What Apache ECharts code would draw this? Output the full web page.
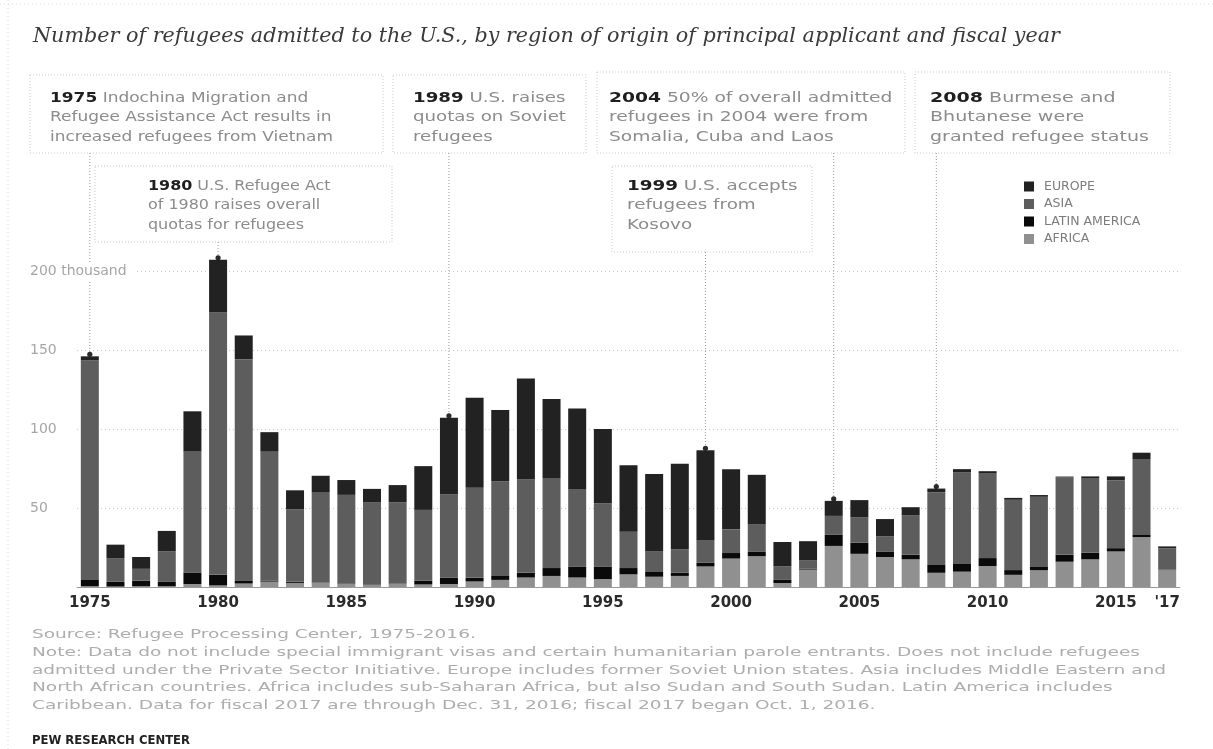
<!DOCTYPE html>
<html><head><meta charset="utf-8">
<script src="https://cdn.jsdelivr.net/npm/echarts@6/dist/echarts.min.js"></script>
<style>html,body{margin:0;padding:0;background:#fff}#c{width:1213px;height:749px}</style>
</head><body><div id="c"></div>
<script>
// ---- data (thousands of refugees) ----
const years = ['1975','1976','1977','1978','1979','1980','1981','1982','1983','1984','1985','1986','1987','1988','1989','1990','1991','1992','1993','1994','1995','1996','1997','1998','1999','2000','2001','2002','2003','2004','2005','2006','2007','2008','2009','2010','2011','2012','2013','2014','2015','2016','2017'];
const europe = [2.5,8.5,7.5,13,25.5,33.4,15,12,12,10.3,9.4,8.7,11,27.7,48.5,57,45,64,50,51,47,42,49,54,57,38,31.5,15.5,12,9.5,11,11,5,2.3,2,1.5,1.2,1.1,0.6,1,2.4,4,1.2];
const asia = [139,15,7.5,19,76.5,166,140,82,45.9,57.2,56.2,51.9,51.2,44.7,52.6,57,60,59,57,49,40,23,13,15,14,15,17,8.5,5.5,12,16,9.5,25,46,58,53.5,44.5,44.4,48.9,47.2,43,48.1,13.5];
const latinAmerica = [4,3,3.5,3,7.3,6.7,2,0.6,0.7,0.2,0.2,0.2,0.3,2.5,4.1,2.3,2.5,3,5,7,8,4,3,2,2.5,3.5,3,2,0.5,7,7,3.5,3,5,4.9,5,3,2.1,4.4,4.3,2.1,1.3,0.3];
const africa = [0.5,0.3,0.5,0.5,1.9,1,2.2,3.4,2.6,2.7,1.9,1.3,2,1.6,1.9,3.5,4.5,6,7,6,5,8,6.5,7,13,18,19.5,2.5,11,26,21,19,17.5,9,9.7,13.3,7.7,10.6,16,17.5,22.5,31.6,10.7];
const yTicks = [0,50,100,150,200];
const legendNames = ['Europe','Asia','Latin America','Africa'];

const titleText = 'Number of refugees admitted to the U.S., by region of origin of principal applicant and fiscal year';
const noteLines = [
  'Source: Refugee Processing Center, 1975-2016.',
  'Note: Data do not include special immigrant visas and certain humanitarian parole entrants. Does not include refugees',
  'admitted under the Private Sector Initiative. Europe includes former Soviet Union states. Asia includes Middle Eastern and',
  'North African countries. Africa includes sub-Saharan Africa, but also Sudan and South Sudan. Latin America includes',
  'Caribbean. Data for fiscal 2017 are through Dec. 31, 2016; fiscal 2017 began Oct. 1, 2016.'
];
const creditText = 'PEW RESEARCH CENTER';

const annYears = ['1975','1980','1989','1999','2004','2008'];
const annText = [
  ['Indochina Migration and','Refugee Assistance Act results in','increased refugees from Vietnam'],
  ['U.S. Refugee Act','of 1980 raises overall','quotas for refugees'],
  ['U.S. raises','quotas on Soviet','refugees'],
  ['U.S. accepts','refugees from','Kosovo'],
  ['50% of overall admitted','refugees in 2004 were from','Somalia, Cuba and Laos'],
  ['Burmese and','Bhutanese were','granted refugee status']
];
// ---- layout (not data) ----
const annLayout = [
  {tx:50, ty:98, tw:283, box:[30,75,383,153], lineFrom:153},
  {tx:148, ty:186, tw:183, box:[95,166,392,242], lineFrom:242},
  {tx:413, ty:98, tw:153, box:[393,75,586,153], lineFrom:153},
  {tx:627, ty:186, tw:171, box:[612,166,812,252], lineFrom:252},
  {tx:609, ty:98, tw:284, box:[597,72,905,153], lineFrom:153},
  {tx:930, ty:98, tw:219, box:[915,72,1170,153], lineFrom:153}
];

const COL = {eu:'#222222', as:'#5d5d5d', la:'#0a0a0a', af:'#909090'};
const SANS = '"DejaVu Sans", "Liberation Sans", sans-serif';

const chart = echarts.init(document.getElementById('c'), null, {renderer:'canvas'});
const mk = (name, data, color) => ({
  name, type:'bar', stack:'total', data, barWidth:18, clip:false, silent:true,
  itemStyle:{color}, emphasis:{disabled:true}
});
chart.setOption({
  animation:false,
  grid:{left:77, right:33, top:271, bottom:162},
  xAxis:{
    type:'category', data:years,
    axisTick:{show:false},
    axisLine:{lineStyle:{color:'#9a9a9a', width:1}},
    axisLabel:{
      interval:(i, v) => (+v % 5 === 0) || v === '2017',
      formatter:v => v === '2017' ? "'17" : v,
      color:'#2a2a2a', fontWeight:'bold', fontSize:15, fontFamily:SANS, margin:9
    }
  },
  yAxis:{
    type:'value', min:yTicks[0], max:yTicks[yTicks.length-1], interval:50,
    axisLine:{show:false}, axisTick:{show:false},
    splitLine:{lineStyle:{color:'#c6c6c6', type:[1,3], width:1}},
    axisLabel:{
      formatter:v => v === 0 ? '' : (v === 200 ? '200 thousand' : String(v)),
      align:'left', margin:47, color:'#a6a6a6', fontSize:14, fontFamily:SANS,
      backgroundColor:'#fff', padding:[2,8,2,0]
    }
  },
  legend:{
    orient:'vertical', left:1019, top:175, itemWidth:10, itemHeight:10, itemGap:4.5,
    icon:'rect', data:legendNames, selectedMode:false,
    formatter:n => n.toUpperCase(),
    textStyle:{color:'#7c7c7c', fontSize:12.5, fontFamily:SANS, lineHeight:13, padding:[0,0,0,5]}
  },
  series:[
    mk('Africa', africa, COL.af),
    mk('Latin America', latinAmerica, COL.la),
    mk('Asia', asia, COL.as),
    mk('Europe', europe, COL.eu)
  ]
});

// ---- text fitting helpers ----
const ctx = document.createElement('canvas').getContext('2d');
function tw(text, font){ ctx.font = font; return ctx.measureText(text).width; }

const g = [];
// faint scan frame
g.push({type:'line', shape:{x1:0,y1:4,x2:1213,y2:4}, style:{stroke:'#d8d8d8', lineDash:[1,3]}, silent:true});
g.push({type:'line', shape:{x1:8,y1:0,x2:8,y2:749}, style:{stroke:'#d8d8d8', lineDash:[1,3]}, silent:true});

// title
const tFont = 'italic 20px "DejaVu Serif"';
g.push({type:'text', x:33, y:37, scaleX:1027/tw(titleText, tFont), silent:true,
  style:{text:titleText, font:tFont, fill:'#3a3a3a', verticalAlign:'middle', align:'left'}});

// notes
const nFont = '13px "DejaVu Sans"';
const nScale = 1108 / tw(noteLines[1], nFont);
const nY = [635, 653, 671, 688, 706];
noteLines.forEach((t, i) => g.push({type:'text', x:32, y:nY[i], scaleX:nScale, silent:true,
  style:{text:t, font:nFont, fill:'#adadad', verticalAlign:'middle', align:'left'}}));
const cFont = 'bold 13px "DejaVu Sans"';
g.push({type:'text', x:32, y:741, scaleX:158 / tw(creditText, cFont), silent:true,
  style:{text:creditText, font:cFont, fill:'#222', verticalAlign:'middle', align:'left'}});

// annotations
const aSize = 14, aLH = 19.5;
const aFont = aSize + 'px "DejaVu Sans"', aBold = 'bold ' + aSize + 'px "DejaVu Sans"';
annYears.forEach((yr, k) => {
  const L = annLayout[k], lines = annText[k];
  const i = years.indexOf(yr);
  const total = europe[i] + asia[i] + latinAmerica[i] + africa[i];
  const p = chart.convertToPixel({gridIndex:0}, [yr, total]);
  let maxW = tw(yr + ' ', aBold) + tw(lines[0], aFont);
  for (let j = 1; j < lines.length; j++) maxW = Math.max(maxW, tw(lines[j], aFont));
  const b = L.box;
  g.push({type:'rect', shape:{x:b[0], y:b[1], width:b[2]-b[0], height:b[3]-b[1]}, silent:true,
    style:{fill:null, stroke:'#c9c9c9', lineDash:[1,2], lineWidth:1}});
  g.push({type:'line', shape:{x1:p[0], y1:L.lineFrom, x2:p[0], y2:p[1]-3}, silent:true,
    style:{stroke:'#9a9a9a', lineDash:[1,2], lineWidth:1}});
  g.push({type:'circle', shape:{cx:p[0], cy:p[1]-2, r:2.6}, silent:true, style:{fill:'#2a2a2a'}});
  const txt = '{b|' + yr + '} ' + lines.join('\n');
  g.push({type:'text', x:L.tx, y:L.ty - aLH/2, scaleX:L.tw / maxW, silent:true,
    style:{text:txt, font:aFont, fill:'#8c8c8c', lineHeight:aLH, verticalAlign:'top', align:'left',
      rich:{b:{font:aBold, fill:'#1e1e1e', lineHeight:aLH}}}});
});
chart.setOption({graphic:g});
</script></body></html>
